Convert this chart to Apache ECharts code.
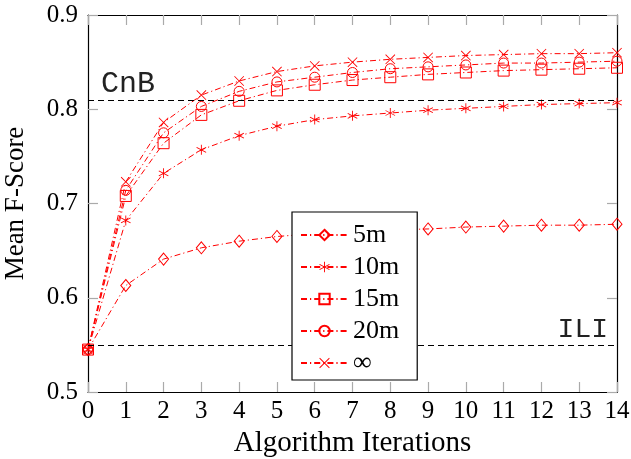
<!DOCTYPE html>
<html>
<head>
<meta charset="utf-8">
<script src="https://cdn.jsdelivr.net/npm/echarts@6/dist/echarts.min.js"></script>
<style>
  html, body { margin: 0; padding: 0; background: #fff; }
  #chart { width: 631px; height: 459px; }
</style>
</head>
<body>
<div id="chart"></div>
<script>
// values
var iterations = [0, 1, 2, 3, 4, 5, 6, 7, 8, 9, 10, 11, 12, 13, 14];
var yTicks = [0.5, 0.6, 0.7, 0.8, 0.9];
var seriesNames = ['5m', '10m', '15m', '20m', '\u221e'];
var score5m  = [0.545, 0.613, 0.641, 0.653, 0.660, 0.665, 0.668, 0.670, 0.672, 0.673, 0.675, 0.676, 0.677, 0.677, 0.678];
var score10m = [0.545, 0.682, 0.732, 0.757, 0.772, 0.782, 0.789, 0.793, 0.796, 0.799, 0.801, 0.803, 0.805, 0.806, 0.807];
var score15m = [0.545, 0.708, 0.764, 0.794, 0.809, 0.820, 0.826, 0.831, 0.834, 0.837, 0.839, 0.841, 0.842, 0.843, 0.844];
var score20m = [0.545, 0.714, 0.775, 0.803, 0.819, 0.829, 0.834, 0.839, 0.843, 0.845, 0.847, 0.849, 0.849, 0.850, 0.851];
var scoreInf = [0.545, 0.723, 0.786, 0.815, 0.830, 0.840, 0.846, 0.850, 0.853, 0.855, 0.857, 0.858, 0.859, 0.859, 0.860];
var baselineNames = ['CnB', 'ILI'];
var baselineValues = [0.811, 0.545];

var RED = '#ff0000';
var serif = 'Liberation Serif';
var mono = 'Liberation Mono';
var dashDot = [6, 3, 1.2, 3];

// thin filled bars so the marks come out red without relying on stroke
var asterisk = 'path://M4.6 0H5.4V10H4.6Z' +
    'M0.87 2.15L9.53 7.15L9.13 7.85L0.47 2.85Z' +
    'M0.47 7.15L9.13 2.15L9.53 2.85L0.87 7.85Z';
var cross = 'path://M0 0.6L0.6 0L10 9.4L9.4 10Z' +
    'M9.4 0L10 0.6L0.6 10L0 9.4Z';

function makeSeries(name, values, symbol, size, filled) {
    return {
        name: name,
        type: 'line',
        data: iterations.map(function (x, i) { return [x, values[i]]; }),
        symbol: symbol,
        symbolSize: size,
        showAllSymbol: true,
        color: RED,
        lineStyle: { color: RED, width: 1, type: dashDot },
        itemStyle: filled
            ? { color: RED, borderWidth: 0 }
            : { color: 'none', borderColor: RED, borderWidth: 1 },
        emphasis: { disabled: true },
        z: 3
    };
}

var chart = echarts.init(document.getElementById('chart'), null, { renderer: 'canvas' });

var tickStyle = { show: true, inside: true, length: 10, lineStyle: { color: '#aaa', width: 1.2 } };
var frameLine = { show: true, onZero: false, lineStyle: { color: '#000', width: 1.2 } };

var option = {
    animation: false,
    backgroundColor: '#fff',
    textStyle: { fontFamily: serif },
    grid: { left: 88, right: 14, top: 15, bottom: 67, containLabel: false, outerBoundsMode: 'none' },
    xAxis: [{
        type: 'value', min: 0, max: 14, interval: 1,
        name: 'Algorithm Iterations', nameLocation: 'middle', nameGap: 37,
        nameTextStyle: { fontFamily: serif, fontSize: 29, color: '#000' },
        axisLine: frameLine,
        axisTick: tickStyle,
        axisLabel: { fontFamily: serif, fontSize: 25, color: '#000', margin: 7 },
        splitLine: { show: false }
    }, {
        type: 'value', min: 0, max: 14, interval: 1, position: 'top',
        axisLine: frameLine,
        axisTick: tickStyle,
        axisLabel: { show: false },
        splitLine: { show: false }
    }],
    yAxis: [{
        type: 'value', min: 0.5, max: 0.9, interval: 0.1,
        name: 'Mean F-Score', nameLocation: 'middle', nameGap: 59,
        nameTextStyle: { fontFamily: serif, fontSize: 27, color: '#000' },
        axisLine: frameLine,
        axisTick: tickStyle,
        axisLabel: {
            fontFamily: serif, fontSize: 25, color: '#000', margin: 10,
            formatter: function (v) {
                var hit = yTicks.filter(function (t) { return Math.abs(t - v) < 1e-9; });
                return hit.length ? String(hit[0]) : '';
            }
        },
        splitLine: { show: false }
    }, {
        type: 'value', min: 0.5, max: 0.9, interval: 0.1, position: 'right',
        axisLine: frameLine,
        axisTick: tickStyle,
        axisLabel: { show: false },
        splitLine: { show: false }
    }],
    legend: {
        data: seriesNames,
        orient: 'vertical',
        left: 292, top: 212,
        backgroundColor: '#fff',
        borderColor: '#000', borderWidth: 1.2,
        padding: [10, 18, 4, 8],
        itemWidth: 47, itemHeight: 13, itemGap: 6,
        formatter: '{t|{name}}',
        textStyle: {
            fontFamily: serif, fontSize: 26, color: '#000',
            rich: { t: { fontFamily: serif, fontSize: 26, color: '#000' } }
        },
        selectedMode: false,
        z: 10
    },
    series: [
        makeSeries(seriesNames[0], score5m, 'diamond', [10, 12], false),
        makeSeries(seriesNames[1], score10m, asterisk, 10, true),
        makeSeries(seriesNames[2], score15m, 'rect', 11, false),
        makeSeries(seriesNames[3], score20m, 'circle', 10, false),
        makeSeries(seriesNames[4], scoreInf, cross, 10, true),
        {
            type: 'line',
            data: [],
            silent: true,
            z: 2,
            markLine: {
                silent: true,
                symbol: ['none', 'none'],
                animation: false,
                lineStyle: { color: '#000', width: 1, type: [6, 4] },
                data: [
                    {
                        yAxis: baselineValues[0], name: baselineNames[0],
                        label: {
                            show: true, position: 'insideStartTop', formatter: '{b}',
                            fontFamily: mono, fontSize: 30, color: '#222', distance: [13, 1]
                        }
                    },
                    {
                        yAxis: baselineValues[1], name: baselineNames[1],
                        label: {
                            show: true, position: 'insideEndTop', formatter: '{b}',
                            fontFamily: mono, fontSize: 28, color: '#222', distance: [9, 1]
                        }
                    }
                ]
            }
        }
    ]
};

chart.setOption(option);
</script>
</body>
</html>
